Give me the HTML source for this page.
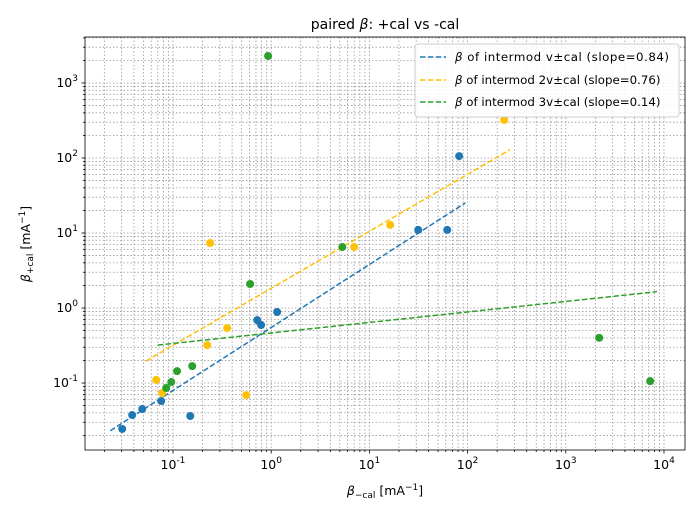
<!DOCTYPE html>
<html><head><meta charset="utf-8"><style>
body{margin:0;background:#fff}
svg text{font-family:"DejaVu Sans","Liberation Sans",sans-serif;fill:#000}
</style></head><body>
<svg id="c" width="700" height="520" xmlns="http://www.w3.org/2000/svg"></svg>
<script>
const blueX=[0.0304,0.0384,0.0486,0.0759,0.150,0.72,0.79,1.15,31.4,62,82];
const blueY=[0.0244,0.0374,0.045,0.0575,0.0363,0.69,0.593,0.885,11.0,11.0,106];
const orangeX=[0.0675,0.0776,0.239,0.223,0.356,0.556,7.0,16.3,236];
const orangeY=[0.11,0.0736,7.36,0.32,0.54,0.069,6.5,12.8,321];
const greenX=[0.0853,0.096,0.110,0.157,0.61,0.93,5.3,2190,7240];
const greenY=[0.0857,0.103,0.144,0.168,2.09,2290,6.5,0.40,0.106];
const fitSlopes=[0.84,0.76,0.14];
const fitIntercepts=[0.55,1.83,0.465];
const fitXMin=[0.023,0.053,0.07];
const fitXMax=[95,270,8500];
const seriesLabels=["v","2v","3v"];
const colors=["#1f77b4","#ffc107","#2ca02c"];
const xTicks=[-1,0,1,2,3,4];
const yTicks=[-1,0,1,2,3];

const L=85,R=685,T=37,B=450;
const xMinL=-1.896,xMaxL=4.214,yMinL=-1.893,yMaxL=3.613;
const sx=v=>L+(Math.log10(v)-xMinL)/(xMaxL-xMinL)*(R-L);
const sy=v=>B-(Math.log10(v)-yMinL)/(yMaxL-yMinL)*(B-T);
const svg=document.getElementById('c');
const NS="http://www.w3.org/2000/svg";
function mk(t,a,parent){const e=document.createElementNS(NS,t);for(const k in a)e.setAttribute(k,a[k]);(parent||svg).appendChild(e);return e;}

const grid=mk('g',{});


for(let d=-2;d<=4;d++)for(let m=1;m<10;m++){const v=m*Math.pow(10,d);const x=sx(v);if(x>L&&x<R)mk('line',{x1:x,x2:x,y1:T,y2:B,stroke:'#999','stroke-width':0.8,'stroke-dasharray':'1.5,2'},grid);}
for(let d=-2;d<=3;d++)for(let m=1;m<10;m++){const v=m*Math.pow(10,d);const y=sy(v);if(y>T&&y<B)mk('line',{x1:L,x2:R,y1:y,y2:y,stroke:'#999','stroke-width':0.8,'stroke-dasharray':'1.5,2'},grid);}

for(let i=0;i<3;i++){const f=x=>fitIntercepts[i]*Math.pow(x,fitSlopes[i]);
const l=mk('line',{x1:sx(fitXMin[i]),y1:sy(f(fitXMin[i])),x2:sx(fitXMax[i]),y2:sy(f(fitXMax[i])),stroke:colors[i],'stroke-width':1.5,'stroke-dasharray':'5.5,2.4'});

}

const sets=[[blueX,blueY],[orangeX,orangeY],[greenX,greenY]];
sets.forEach((s,i)=>{s[0].forEach((xv,j)=>{const c=mk('circle',{cx:sx(xv),cy:sy(s[1][j]),r:4,fill:colors[i]});

});});

const fr=mk('rect',{x:L,y:T,width:R-L,height:B-T,fill:'none',stroke:'#000','stroke-width':0.8});


for(let d=-2;d<=4;d++)for(let m=1;m<10;m++){const x=sx(m*Math.pow(10,d));if(x>=L&&x<=R)mk('line',{x1:x,x2:x,y1:B,y2:B+(m==1?3.5:2),stroke:'#000','stroke-width':0.8});}
for(let d=-2;d<=3;d++)for(let m=1;m<10;m++){const y=sy(m*Math.pow(10,d));if(y>=T&&y<=B)mk('line',{x1:L,x2:L-(m==1?3.5:2),y1:y,y2:y,stroke:'#000','stroke-width':0.8});}
xTicks.forEach(e=>{const t=mk('text',{x:sx(Math.pow(10,e)),y:B+19,'text-anchor':'middle','font-size':12.5});t.innerHTML='10<tspan dy="-6" font-size="9">'+e+'</tspan>';

});
yTicks.forEach(e=>{const t=mk('text',{x:L-7,y:sy(Math.pow(10,e))+4,'text-anchor':'end','font-size':12.5});t.innerHTML='10<tspan dy="-6" font-size="9">'+e+'</tspan>';

});
</script>
<svg width="700" height="520" style="position:absolute;left:0;top:0" xmlns="http://www.w3.org/2000/svg">
<text x="385" y="29" text-anchor="middle" font-size="14">paired <tspan font-style="italic">β</tspan>: +cal vs -cal</text>
<text x="385" y="495" text-anchor="middle" font-size="12.5"><tspan font-style="italic">β</tspan><tspan dy="3" font-size="9">−cal</tspan><tspan dy="-3"> [mA</tspan><tspan dy="-5" font-size="9">−1</tspan><tspan dy="5">]</tspan></text>
<text transform="translate(30,244) rotate(-90)" text-anchor="middle" font-size="12.5"><tspan font-style="italic">β</tspan><tspan dy="3" font-size="9">+cal</tspan><tspan dy="-3"> [mA</tspan><tspan dy="-5" font-size="9">−1</tspan><tspan dy="5">]</tspan></text>
<g>
<rect x="415" y="44" width="264" height="73" rx="3" fill="#fff" fill-opacity="0.85" stroke="#ccc"/>
<line x1="420" x2="446" y1="57" y2="57" stroke="#1f77b4" stroke-width="1.5" stroke-dasharray="5.5,2.4"/>
<text x="455" y="61" font-size="11.8" textLength="214"><tspan font-style="italic">β</tspan> of intermod v±cal (slope=0.84)</text>
<line x1="420" x2="446" y1="80" y2="80" stroke="#ffc107" stroke-width="1.5" stroke-dasharray="5.5,2.4"/>
<text x="455" y="84" font-size="11.8"><tspan font-style="italic">β</tspan> of intermod 2v±cal (slope=0.76)</text>
<line x1="420" x2="446" y1="102" y2="102" stroke="#2ca02c" stroke-width="1.5" stroke-dasharray="5.5,2.4"/>
<text x="455" y="106" font-size="11.8"><tspan font-style="italic">β</tspan> of intermod 3v±cal (slope=0.14)</text>
</g>
</svg>
</body></html>
